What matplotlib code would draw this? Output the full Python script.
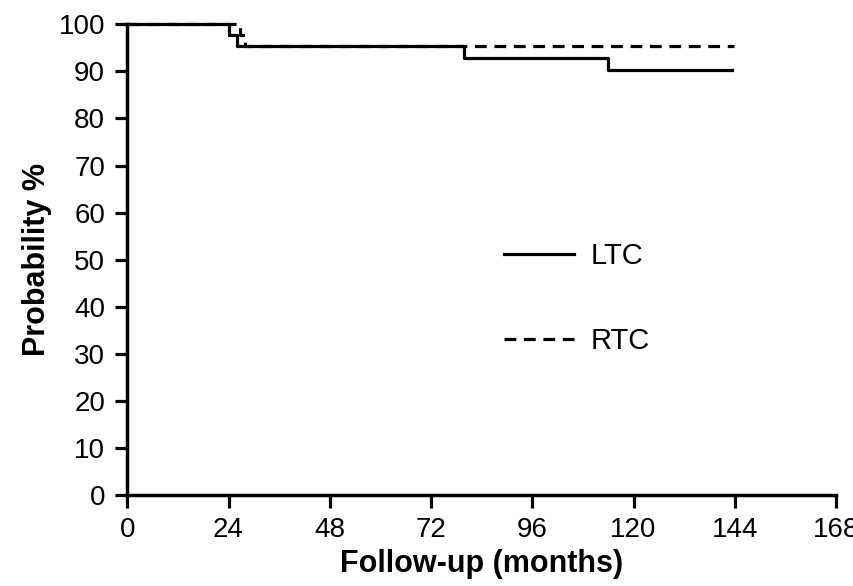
import matplotlib
matplotlib.use('Agg')
import matplotlib.pyplot as plt

# Kaplan-Meier style curves
ltc_months = [0, 24.1, 26.0, 79.7, 114.0, 143.3]
ltc_prob = [100, 97.7, 95.3, 92.8, 90.4, 90.4]

rtc_months = [0, 26.7, 28.0, 143.7]
rtc_prob = [100, 97.7, 95.3, 95.3]

x_ticks = [0, 24, 48, 72, 96, 120, 144, 168]
y_ticks = [0, 10, 20, 30, 40, 50, 60, 70, 80, 90, 100]

plt.rcParams['font.family'] = ['Liberation Sans', 'DejaVu Sans']
plt.rcParams['lines.scale_dashes'] = False

fig = plt.figure(figsize=(8.54, 5.86), dpi=100)
ax = fig.add_axes([0.149, 0.1553, 0.830, 0.8032])

ax.step(rtc_months, rtc_prob, where='post', color='black', lw=2.3,
        dashes=(8.5, 5.5), label='RTC', clip_on=False, zorder=2)
ax.step(ltc_months, ltc_prob, where='post', color='black', lw=2.3,
        label='LTC', clip_on=False, zorder=3)

ax.set_xlim(0, 168)
ax.set_ylim(0, 100)
ax.set_xticks(x_ticks)
ax.set_yticks(y_ticks)

for s in ['top', 'right']:
    ax.spines[s].set_visible(False)
for s in ['left', 'bottom']:
    ax.spines[s].set_linewidth(2.5)

ax.tick_params(direction='out', length=9, width=2.3, labelsize=20, pad=7)

ax.set_xlabel('Follow-up (months)', fontsize=22, fontweight='bold', labelpad=4)
ax.set_ylabel('Probability %', fontsize=22, fontweight='bold', labelpad=5)

handles, labels = ax.get_legend_handles_labels()
ax.legend(handles[::-1], labels[::-1], loc='center left',
          bbox_to_anchor=(0.532, 0.417), frameon=False, fontsize=21,
          handlelength=2.4, handletextpad=0.55, labelspacing=1.95,
          borderpad=0, borderaxespad=0)

fig.savefig('out.png', dpi=100)
